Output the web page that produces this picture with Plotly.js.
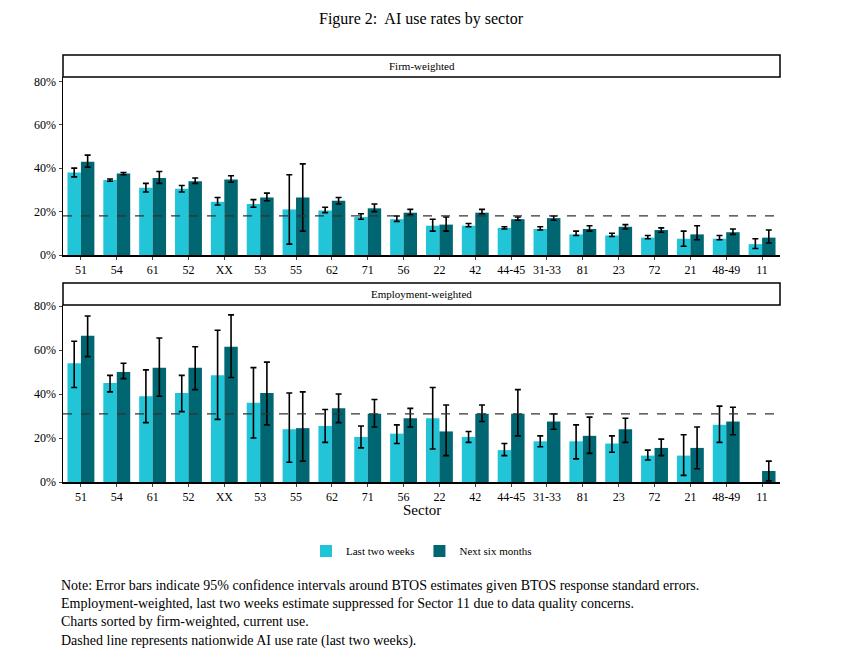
<!DOCTYPE html>
<html><head><meta charset="utf-8">
<script src="https://cdn.plot.ly/plotly-3.0.1.min.js"></script>
<style>body{margin:0;background:#fff}</style></head>
<body><div id="c" style="width:865px;height:662px"></div>
<script>
const sectors=["51","54","61","52","XX","53","55","62","71","56","22","42","44-45","31-33","81","23","72","21","48-49","11"];
const firmLast=[38,34.5,31,30.5,24.5,23.5,21,20.5,17.5,16.5,13.5,13.5,12.5,12,9.5,9,8,7.5,7.5,5];
const firmLastLo=[36,34,29,29,23,22,5,19.5,16.5,15.5,11,13,12,11.5,9,8.5,7.5,4,7,3];
const firmLastHi=[40,35,33,32,26.5,25.5,37,22,19,18,16.5,14.5,13,13,11,10,9,11,9,7.5];
const firmNext=[43,37.5,35.5,34,34.8,26.5,26.5,25,21.5,19.5,14,19.5,16.5,17,12,13,11.5,9.5,10.5,8];
const firmNextLo=[40.5,37,33,33,33.5,25,11,23.5,20,18.5,11,19,16,16,11,12,10.5,7,9.5,5.5];
const firmNextHi=[46,38,38.5,35.5,36.5,28.5,42,26.5,23.5,21,17.5,21,17.5,18,13.5,14,12.5,13.5,12,11.5];
const empLast=[54,45,39,40.5,48.5,36,24,25.5,20.5,22,29,20.5,14.5,18.5,18.5,17.5,12,12,26,null];
const empLastLo=[43,41,27,32,28.5,20,9,18,15.5,17.5,15,18,12,16,10.5,13.5,10,3,18,null];
const empLastHi=[64,48.5,51,48.5,69,52,40.5,33,25.5,26,43,23,17.5,21,26,21,14.5,21.5,34.5,null];
const empNext=[66.5,50,52,52,61.5,40.5,24.5,33.5,31,29,23,31,31,27.5,21,24,15.5,15.5,27.5,5];
const empNextLo=[57,47,39,42,47.5,26,9.5,27,25,25,12,27.5,21,24,13,18,12,6,21.5,0.5];
const empNextHi=[75.5,54,65.5,61.5,76,54.5,41,40,37.5,33.5,35,35,42,31,29.5,29,19.5,25,34,9.5];
const tickVals=[0,20,40,60,80];
const tickText=["0%","20%","40%","60%","80%"];
const natFirm=18, natEmp=31;
const light="#22C4D8", dark="#006671";
function err(v,lo,hi){return {type:'data',symmetric:false,array:v.map((x,i)=>x==null?null:hi[i]-x),arrayminus:v.map((x,i)=>x==null?null:x-lo[i]),color:'#000',thickness:1.6,width:3};}
const traces=[
 {type:'bar',x:sectors,y:firmLast,name:'Last two weeks',marker:{color:light},error_y:err(firmLast,firmLastLo,firmLastHi),xaxis:'x',yaxis:'y',legendgroup:'a'},
 {type:'bar',x:sectors,y:firmNext,name:'Next six months',marker:{color:dark},error_y:err(firmNext,firmNextLo,firmNextHi),xaxis:'x',yaxis:'y',legendgroup:'b'},
 {type:'bar',x:sectors,y:empLast,name:'Last two weeks',marker:{color:light},error_y:err(empLast,empLastLo,empLastHi),xaxis:'x2',yaxis:'y2',showlegend:false,legendgroup:'a'},
 {type:'bar',x:sectors,y:empNext,name:'Next six months',marker:{color:dark},error_y:err(empNext,empNextLo,empNextHi),xaxis:'x2',yaxis:'y2',showlegend:false,legendgroup:'b'}
];
const f={family:'Liberation Serif, DejaVu Serif, serif',color:'#000'};
const yax=(dom)=>({domain:dom,range:[0,82],tickvals:tickVals,ticktext:tickText,showgrid:false,zeroline:false,showline:true,linecolor:'#000',linewidth:1.5,ticks:'outside',ticklen:3,tickfont:{...f,size:12},fixedrange:true});
const xax=(anchor)=>({type:'category',anchor:anchor,domain:[0,1],showline:true,linecolor:'#000',linewidth:1.5,ticks:'outside',ticklen:3,tickfont:{...f,size:12},showgrid:false,categoryorder:'array',categoryarray:sectors});
const layout={
 width:865,height:662,margin:{l:63,r:85,t:0,b:0},paper_bgcolor:'#fff',plot_bgcolor:'#fff',
 font:f,barmode:'group',bargap:0.25,bargroupgap:0,
 xaxis:xax('y'),yaxis:yax([1-255/662,1-77/662]),
 xaxis2:xax('y2'),yaxis2:Object.assign(yax([1-482/662,1-305/662]),{range:[0,80.5]}),
 shapes:[
  {type:'rect',layer:'below',xref:'paper',yref:'paper',x0:0,x1:1,y0:1-77/662,y1:1-55/662,line:{color:'#000',width:1.5},fillcolor:'#fff'},
  {type:'rect',layer:'below',xref:'paper',yref:'paper',x0:0,x1:1,y0:1-305/662,y1:1-283/662,line:{color:'#000',width:1.5},fillcolor:'#fff'},
  {type:'line',xref:'paper',yref:'y',x0:0,x1:1,y0:natFirm,y1:natFirm,line:{color:'#333',width:1.3,dash:'dash'}},
  {type:'line',xref:'paper',yref:'y2',x0:0,x1:1,y0:natEmp,y1:natEmp,line:{color:'#333',width:1.3,dash:'dash'}}
 ],
 annotations:[
  {xref:'paper',yref:'paper',x:0.5,y:1-66/662,yanchor:'middle',text:'Firm-weighted',showarrow:false,font:{...f,size:11}},
  {xref:'paper',yref:'paper',x:0.5,y:1-294/662,yanchor:'middle',text:'Employment-weighted',showarrow:false,font:{...f,size:11}},
  {xref:'paper',yref:'paper',x:0.5,y:1-510/662,yanchor:'middle',text:'Sector',showarrow:false,font:{...f,size:15}},
  {xref:'paper',yref:'paper',x:0.5,y:1-19/662,yanchor:'middle',text:'Figure 2:  AI use rates by sector',showarrow:false,font:{...f,size:16}},
  {xref:'paper',yref:'paper',x:-0.005,xanchor:'left',y:1-576/662,yanchor:'top',align:'left',showarrow:false,font:{...f,size:14},
   text:'Note: Error bars indicate 95% confidence intervals around BTOS estimates given BTOS response standard errors.<br>Employment-weighted, last two weeks estimate suppressed for Sector 11 due to data quality concerns.<br>Charts sorted by firm-weighted, current use.<br>Dashed line represents nationwide AI use rate (last two weeks).'}
 ],
 legend:{orientation:'h',x:0.5,xanchor:'center',y:1-551/662,yanchor:'middle',font:{...f,size:11},bgcolor:'rgba(0,0,0,0)'}
};
Plotly.newPlot('c',traces,layout,{displayModeBar:false,staticPlot:true});
</script></body></html>
